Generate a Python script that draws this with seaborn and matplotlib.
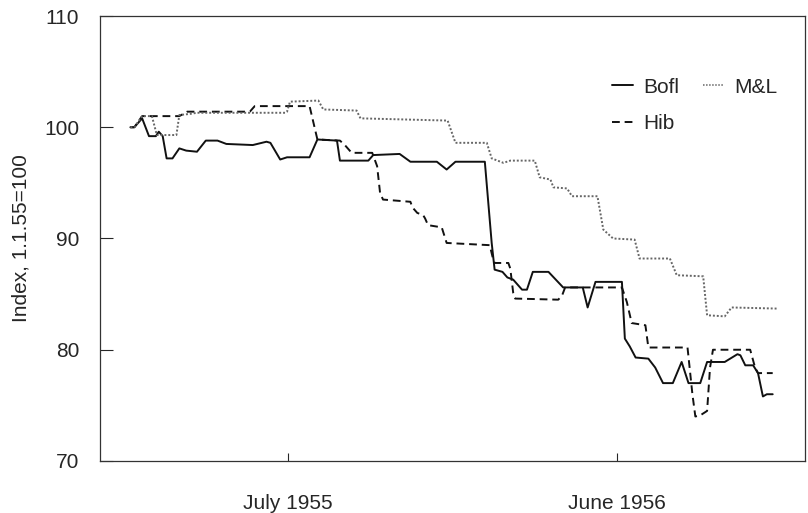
import matplotlib
matplotlib.use("Agg")
import matplotlib.pyplot as plt
import pandas as pd
import seaborn as sns

sns.set_style("ticks")
plt.rcParams["font.family"] = ["Liberation Sans", "DejaVu Sans"]

# days since 1 Jan 1955, index 1.1.55 = 100
bofl_day = [20, 24, 32, 39, 46, 49, 53, 57, 63, 70, 77, 88, 97, 109, 118, 145, 159, 163,
            173, 180, 203, 211, 231, 234, 263, 268, 295, 306, 333, 343, 352, 382, 389, 392,
            400, 405, 411, 420, 425, 431, 447, 462, 482, 487, 495, 522, 525, 530, 536, 549,
            556, 564, 574, 583, 590, 602, 609, 627, 640, 643, 648, 656, 661, 666, 670, 676]
bofl_val = [100.0, 100.0, 100.8, 99.2, 99.2, 99.6, 99.2, 97.2, 97.2, 98.1, 97.9, 97.8, 98.8,
            98.8, 98.5, 98.4, 98.7, 98.6, 97.1, 97.3, 97.3, 98.9, 98.8, 97.0, 97.0, 97.5,
            97.6, 96.9, 96.9, 96.2, 96.9, 96.9, 89.6, 87.2, 87.0, 86.5, 86.3, 85.4, 85.4,
            87.0, 87.0, 85.6, 85.6, 83.8, 86.1, 86.1, 81.0, 80.3, 79.3, 79.2, 78.4, 77.0,
            77.0, 78.9, 77.0, 77.0, 78.9, 78.9, 79.6, 79.5, 78.6, 78.6, 77.9, 75.8, 76.0, 76.0]

hib_day = [20, 24, 32, 70, 78, 142, 147, 203, 211, 234, 239, 246, 267, 272, 275, 278, 306,
           308, 313, 319, 321, 324, 338, 343, 387, 390, 392, 406, 408, 411, 413, 457, 461,
           464, 522, 527, 532, 546, 549, 589, 594, 597, 602, 609, 612, 615, 653, 658, 661, 676]
hib_val = [100.0, 100.0, 101.0, 101.0, 101.4, 101.4, 101.9, 101.9, 98.9, 98.8, 98.4, 97.7,
           97.7, 96.5, 94.1, 93.5, 93.3, 92.8, 92.3, 92.1, 91.8, 91.2, 91.0, 89.6, 89.4,
           88.3, 87.8, 87.8, 87.3, 85.1, 84.6, 84.5, 84.9, 85.6, 85.6, 84.3, 82.4, 82.2,
           80.2, 80.2, 76.0, 74.0, 74.1, 74.5, 78.4, 80.0, 80.0, 78.4, 77.9, 77.9]

ml_day = [20, 24, 32, 42, 47, 67, 70, 81, 88, 178, 180, 183, 212, 217, 251, 255, 344, 352,
          384, 389, 401, 408, 433, 438, 449, 452, 466, 471, 497, 503, 513, 535, 540, 571,
          578, 605, 609, 627, 634, 680]
ml_val = [100.0, 100.0, 101.0, 101.0, 99.3, 99.3, 101.1, 101.2, 101.3, 101.3, 101.4, 102.3,
          102.4, 101.6, 101.5, 100.8, 100.6, 98.6, 98.6, 97.2, 96.8, 97.0, 97.0, 95.5, 95.3,
          94.6, 94.5, 93.8, 93.8, 90.8, 90.0, 89.9, 88.2, 88.2, 86.7, 86.6, 83.1, 83.0,
          83.8, 83.7]

tick_dates = ["1955-07-01", "1956-06-01"]
tick_labels = ["July 1955", "June 1956"]

start = pd.Timestamp("1955-01-01")
frames = []
for name, days, vals in [("Bofl", bofl_day, bofl_val),
                         ("Hib", hib_day, hib_val),
                         ("M&L", ml_day, ml_val)]:
    frames.append(pd.DataFrame({
        "date": start + pd.to_timedelta(days, unit="D"),
        "index": vals,
        "bank": name,
    }))
df = pd.concat(frames, ignore_index=True)

fig = plt.figure(figsize=(8.08, 5.13), dpi=100)
ax = fig.add_axes([0.1238, 0.1014, 0.8725, 0.8674])

sns.lineplot(data=df, x="date", y="index", hue="bank", style="bank",
             palette={"Bofl": "#111111", "Hib": "#111111", "M&L": "#666666"},
             dashes={"Bofl": "", "Hib": (4, 2.5), "M&L": (1, 1)},
             estimator=None, sort=False, linewidth=1.4, ax=ax)
for line in ax.lines:
    if line.get_label() == "M&L":
        line.set_linewidth(1.1)

handles, labels = ax.get_legend_handles_labels()
ax.legend(handles, labels, ncol=2, frameon=False, loc="upper left",
          bbox_to_anchor=(0.712, 0.885), handlelength=1.0, handletextpad=0.5,
          columnspacing=1.1, labelspacing=0.85, borderpad=0, fontsize=15)

ax.set_ylim(70, 110)
ax.set_yticks([70, 80, 90, 100, 110])
ax.set_xlim(start + pd.Timedelta(days=-11), start + pd.Timedelta(days=709))
ax.set_xticks(pd.to_datetime(tick_dates))
ax.set_xticklabels(tick_labels)
ax.set_xlabel("")
ax.set_ylabel("Index, 1.1.55=100", fontsize=15, labelpad=10)
ax.tick_params(axis="y", direction="in", length=9, width=0.8, pad=15, labelsize=15)
ax.tick_params(axis="x", direction="in", length=6, width=0.8, pad=24, labelsize=15)
for s in ax.spines.values():
    s.set_linewidth(0.9)
    s.set_color("#333333")

fig.savefig("out.png", dpi=100)
